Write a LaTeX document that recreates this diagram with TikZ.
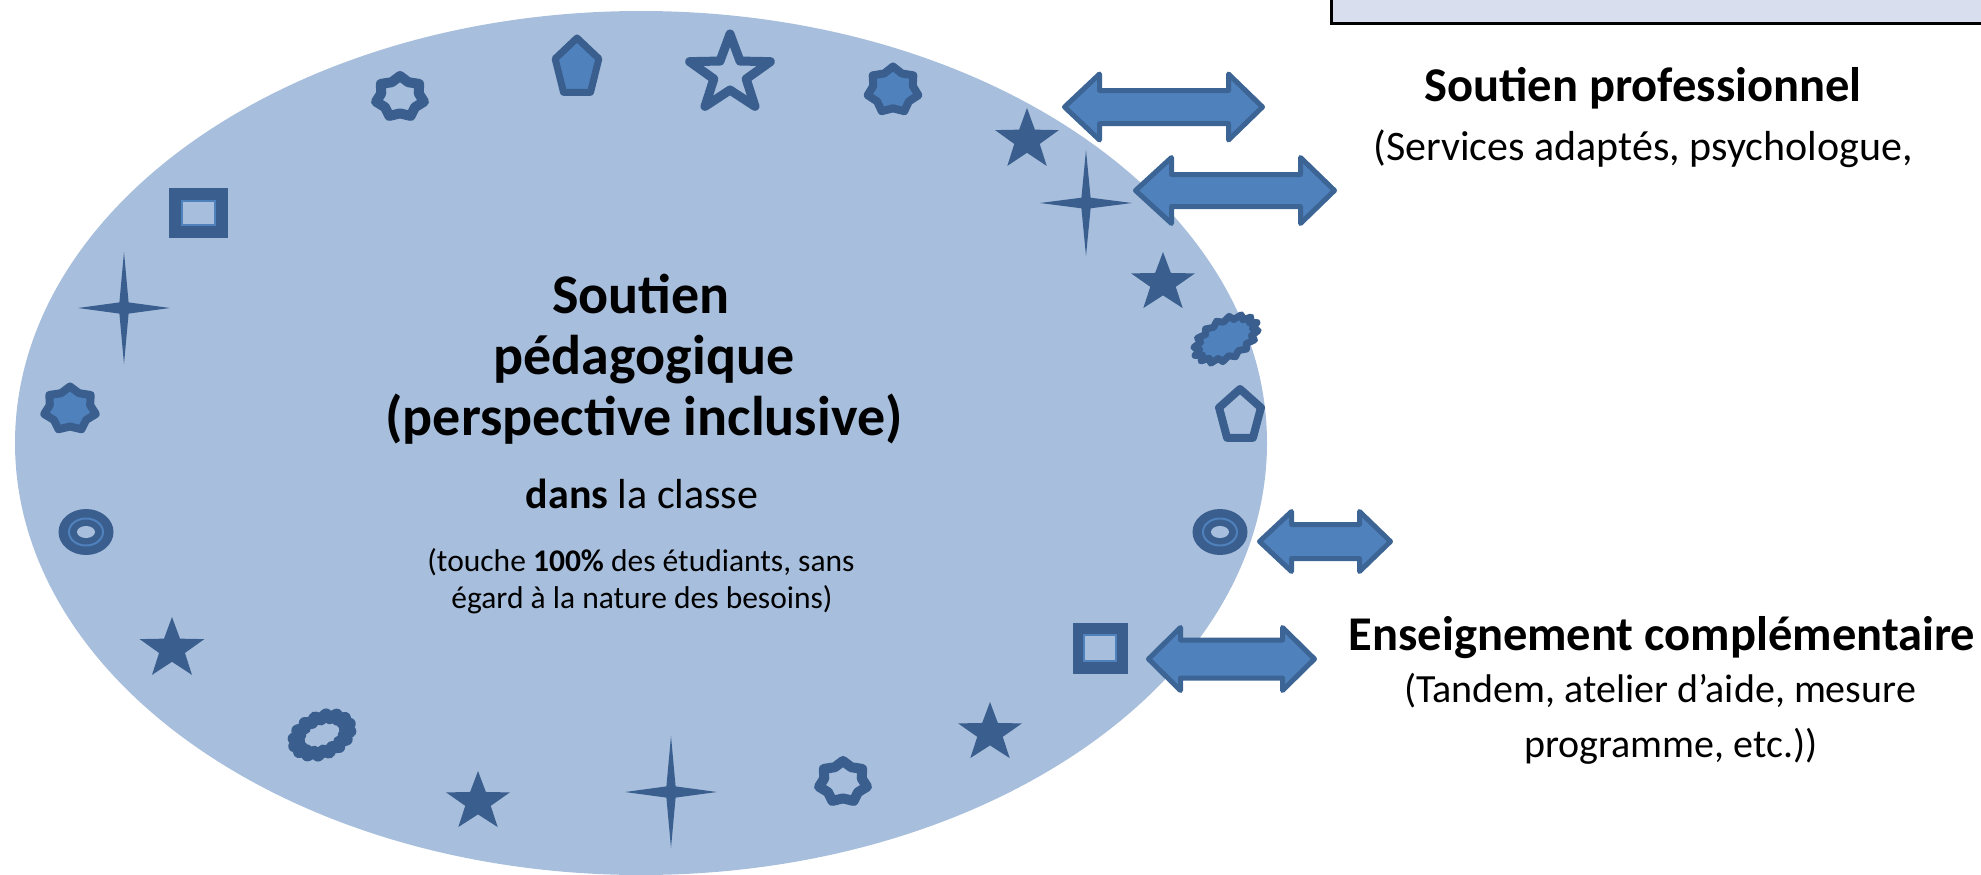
\documentclass[tikz,border=0pt]{standalone}
\usepackage{fontspec}
\setmainfont{Carlito}
\usetikzlibrary{shapes.geometric}
\definecolor{ellb}{HTML}{A7BEDC}
\definecolor{shdark}{HTML}{3A5E8D}
\definecolor{shmid}{HTML}{4F81BD}
\definecolor{arrdark}{HTML}{3C6494}
\definecolor{boxfill}{HTML}{D9DEEE}
\newcommand\myfs[1]{\fontsize{#1}{#1}\selectfont}
\newcommand\DArrow[7]{\draw[blockarrow] (#1,#3) -- (#6,#3-#4) -- (#6,#3-#5) -- (#7,#3-#5) -- (#7,#3-#4) -- (#2,#3) -- (#7,#3+#4) -- (#7,#3+#5) -- (#6,#3+#5) -- (#6,#3+#4) -- cycle;}
\tikzset{
  pics/spiky/.style n args={3}{code={\path[pic actions] plot[samples at={0,...,#1}, variable=\k] ({(#2+(1-#2)*(1-mod(\k,2)))*cos(-90+#3*\k)}, {(#2+(1-#2)*(1-mod(\k,2)))*sin(-90+#3*\k)}) -- cycle;}},
  pics/pentag/.style={code={\path[pic actions] plot[samples at={0,...,4}, variable=\k] ({cos(-90+72*\k)}, {sin(-90+72*\k)}) -- cycle;}},
  pics/star4/.style={code={\path[pic actions] (0,-1) -- (0.1,-0.1) -- (1,0) -- (0.1,0.1) -- (0,1) -- (-0.1,0.1) -- (-1,0) -- (-0.1,-0.1) -- cycle;}},
  solid/.style={fill=shdark},
  filledshape/.style={fill=shmid, draw=shdark, line width=8pt, line join=round},
  hollowshape/.style={draw=shdark, line width=10pt, line join=round},
  blockarrow/.style={fill=shmid, draw=arrdark, line width=5pt, line join=round},
  boldtitle/.style={anchor=base, font=\myfs{56}\bfseries},
  righttitle/.style={anchor=base, font=\myfs{48.5}\bfseries},
  righttext/.style={anchor=base, font=\myfs{40}},
  smalltext/.style={anchor=base, font=\myfs{31.5}},
}
\begin{document}
\begin{tikzpicture}[x=1pt,y=-1pt]
\useasboundingbox (0,0) rectangle (1981,875);
\clip (0,0) rectangle (1981,875);
% top box
\node[draw=black, line width=3pt, fill=boxfill, minimum width=700pt, minimum height=80pt, inner sep=0, anchor=south west] (topbox) at (1330,25) {};
% big ellipse
\node[ellipse, fill=ellb, minimum width=1252pt, minimum height=864pt, inner sep=0] (bulle) at (641,443) {};
% center text
\node[boldtitle] (t1) at (641,313) {Soutien};
\node[boldtitle] (t2) at (644,374) {pédagogique};
\node[boldtitle] (t3) at (644,435) {(perspective inclusive)};
\node[anchor=base, font=\myfs{42}] (t4) at (642,508) {\textbf{dans} la classe};
\node[smalltext] (t5) at (641,571) {(touche \textbf{100\%} des étudiants, sans};
\node[smalltext] (t6) at (642,608) {égard à la nature des besoins)};
% right texts
\node[righttitle] (r1) at (1643,101) {Soutien professionnel};
\node[righttext, font=\myfs{42}] (r2) at (1643,160) {(Services adaptés, psychologue,};
\node[righttitle] (r3) at (1662,650) {Enseignement complémentaire};
\node[righttext] (r4) at (1660,702) {(Tandem, atelier d’aide, mesure};
\node[righttext] (r5) at (1671,757) {programme, etc.))};
% block arrows
\DArrow{1064.5}{1262.5}{107}{33}{16.5}{1099.5}{1228.5}
\DArrow{1135.5}{1334.5}{190.5}{33}{16}{1171.5}{1300.5}
\DArrow{1259.5}{1390.5}{541.5}{30}{17}{1291.5}{1359.5}
\DArrow{1148.5}{1314.5}{659}{31.5}{19}{1180.5}{1282.5}
% shapes around the ellipse
\pic[hollowshape, shift={(400,97)}, xscale=24.6, yscale=21] {spiky={13}{0.78}{25.714}};
\pic[filledshape, line width=7pt, shift={(577,68)}, xscale=23, yscale=30] {pentag};
\pic[hollowshape, line width=9pt, shift={(730,74)}, xscale=42.5, yscale=40] {spiky={9}{0.40}{36}};
\pic[filledshape, shift={(893,90)}, xscale=26, yscale=23.5] {spiky={13}{0.78}{25.714}};
\pic[solid, shift={(1027,140)}, xscale=33.5, yscale=32] {spiky={9}{0.40}{36}};
\pic[solid, shift={(1086,203)}, xscale=46, yscale=53] {star4};
\pic[solid, shift={(1163,283)}, xscale=33.5, yscale=31] {spiky={9}{0.40}{36}};
\pic[filledshape, line width=7pt, shift={(1226,339)}, rotate=28, xscale=35, yscale=20] {spiky={31}{0.82}{11.25}};
\pic[hollowshape, line width=8pt, shift={(1240,416)}, xscale=22, yscale=27] {pentag};
% donut right
\fill[shdark] (1220,532) ellipse [x radius=27.5pt, y radius=23pt];
\draw[shmid, line width=2pt] (1220,532) ellipse [x radius=17pt, y radius=13.5pt];
\fill[ellb] (1220,532) ellipse [x radius=9pt, y radius=6pt];
% square right
\fill[shdark] (1072.5,622.5) rectangle (1127.5,673.5);
\filldraw[fill=ellb, draw=shmid, line width=1.5pt] (1084,635) rectangle (1116,661);
\pic[solid, shift={(990,733)}, xscale=33.5, yscale=31] {spiky={9}{0.40}{36}};
\pic[hollowshape, shift={(843,782)}, xscale=24.6, yscale=21] {spiky={13}{0.78}{25.714}};
\pic[solid, shift={(671,792)}, xscale=46, yscale=56] {star4};
\pic[solid, shift={(478,802)}, xscale=33.5, yscale=31] {spiky={9}{0.40}{36}};
\pic[hollowshape, line width=12pt, shift={(322,735)}, rotate=22, xscale=30, yscale=19] {spiky={31}{0.80}{11.25}};
\pic[solid, shift={(172,649)}, xscale=34, yscale=32] {spiky={9}{0.40}{36}};
% donut left
\fill[shdark] (86,532) ellipse [x radius=27.5pt, y radius=23pt];
\draw[shmid, line width=2pt] (86,532) ellipse [x radius=17pt, y radius=13.5pt];
\fill[ellb] (86,532) ellipse [x radius=9pt, y radius=6pt];
\pic[filledshape, shift={(70,409)}, xscale=26.5, yscale=22.5] {spiky={13}{0.78}{25.714}};
\pic[solid, shift={(124,308)}, xscale=46, yscale=56] {star4};
% square left
\fill[shdark] (169,188) rectangle (228,238);
\filldraw[fill=ellb, draw=shmid, line width=1.5pt] (182,201) rectangle (215,225);
\end{tikzpicture}
\end{document}
